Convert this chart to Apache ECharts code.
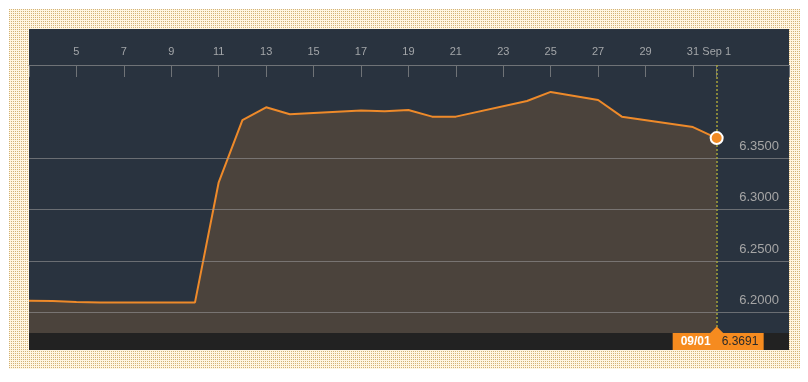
<!DOCTYPE html>
<html>
<head>
<meta charset="utf-8">
<script src="https://cdn.jsdelivr.net/npm/echarts@6/dist/echarts.min.js"></script>
<style>
  html, body { margin: 0; padding: 0; background: #ffffff; }
  #frame {
    position: absolute; left: 9px; top: 9px; width: 791px; height: 360px;
    background-color: #fff6e2;
    background-image: linear-gradient(90deg, transparent 1px, #fff6e2 1px), linear-gradient(#d2b277 1px, transparent 1px);
    background-size: 2px 2px;
  }
  #chart { position: absolute; left: 0; top: 0; width: 808px; height: 382px; }
</style>
</head>
<body>
<div id="frame"></div>
<div id="chart"></div>
<script>
// ---- data (USD/CNY, Aug–Sep 2015) ----
var dates = ['2015-08-03','2015-08-04','2015-08-05','2015-08-06','2015-08-07','2015-08-10',
  '2015-08-11','2015-08-12','2015-08-13','2015-08-14','2015-08-17','2015-08-18','2015-08-19',
  '2015-08-20','2015-08-21','2015-08-24','2015-08-25','2015-08-26','2015-08-27','2015-08-28',
  '2015-08-31','2015-09-01'];
var values = [6.2112, 6.2110, 6.2100, 6.2097, 6.2097, 6.2097,
  6.3262, 6.3866, 6.3990, 6.3922, 6.3958, 6.3951, 6.3964,
  6.3899, 6.3899, 6.4051, 6.4139, 6.4100, 6.4061, 6.3899,
  6.3798, 6.3691];
var xTickDates = ['2015-08-03','2015-08-05','2015-08-07','2015-08-09','2015-08-11','2015-08-13',
  '2015-08-15','2015-08-17','2015-08-19','2015-08-21','2015-08-23','2015-08-25','2015-08-27',
  '2015-08-29','2015-08-31','2015-09-01'];
var xLabelDates = ['2015-08-05','2015-08-07','2015-08-09','2015-08-11','2015-08-13',
  '2015-08-15','2015-08-17','2015-08-19','2015-08-21','2015-08-23','2015-08-25','2015-08-27',
  '2015-08-29','2015-08-31','2015-09-01'];
var yTicks = [6.20, 6.25, 6.30, 6.35];
var xMinDate = '2015-08-03';
var xMaxDate = '2015-09-04';
var yMin = 6.18, yMax = 6.44;
var lastLabelDate = '09/01';

function ts(d) { var p = d.split('-'); return Date.UTC(+p[0], +p[1] - 1, +p[2]); }
var seriesData = dates.map(function (d, i) { return [ts(d), values[i]]; });
var lastPoint = seriesData[seriesData.length - 1];
var monthNames = ['Jan','Feb','Mar','Apr','May','Jun','Jul','Aug','Sep','Oct','Nov','Dec'];
var xMaxTs = ts(xMaxDate) + 0.05 * 86400000;

var chart = echarts.init(document.getElementById('chart'), null, { renderer: 'canvas' });
var option = {
  backgroundColor: 'transparent',
  animation: false,
  textStyle: { fontFamily: 'Liberation Sans, Arial, sans-serif' },
  grid: { left: 29, right: 19, top: 65, bottom: 49, containLabel: false },
  xAxis: {
    type: 'value',
    position: 'top',
    min: ts(xMinDate),
    max: xMaxTs,
    axisLine: { show: true, lineStyle: { color: '#6f7377', width: 1 } },
    axisTick: { show: true, inside: true, length: 12, lineStyle: { color: '#6f7377' },
      customValues: xTickDates.map(ts).concat([xMaxTs]) },
    axisLabel: {
      customValues: xLabelDates.map(ts),
      margin: 8, color: '#a3a6a9', fontSize: 11,
      formatter: function (v) {
        var d = new Date(v);
        return d.getUTCDate() === 1 ? monthNames[d.getUTCMonth()] + ' ' + d.getUTCDate() : String(d.getUTCDate());
      }
    },
    splitLine: { show: false }
  },
  yAxis: {
    type: 'value',
    position: 'right',
    min: yMin, max: yMax,
    z: 3,
    axisLine: { show: false },
    axisTick: { show: false, customValues: yTicks },
    axisLabel: {
      customValues: yTicks,
      inside: true, margin: 10, color: '#a6a6a6', fontSize: 13,
      verticalAlign: 'bottom', padding: [0, 0, 5, 0],
      formatter: function (v) { return v.toFixed(4); }
    },
    splitLine: { show: true, lineStyle: { color: 'rgba(150,150,150,0.6)', width: 1 } }
  },
  series: [
    {
      type: 'line',
      data: seriesData,
      showSymbol: false,
      lineStyle: { color: '#ee8a2a', width: 2 },
      areaStyle: { color: '#4b433c', opacity: 1 },
      z: 2,
      markLine: {
        silent: true, symbol: 'none',
        label: { show: false },
        lineStyle: { color: '#a7a23a', type: [2, 2], width: 1.5 },
        data: [[{ coord: [lastPoint[0], yMax] }, { coord: [lastPoint[0], yMin] }]]
      }
    },
    {
      type: 'scatter',
      data: [lastPoint],
      symbol: 'circle',
      symbolSize: 12,
      itemStyle: { color: '#f08a24', borderColor: '#ffffff', borderWidth: 2, opacity: 1 },
      z: 5
    }
  ]
};
chart.setOption(option);

// decorations positioned from the library's own scales
var gridTopLeft = chart.convertToPixel({ gridIndex: 0 }, [ts(xMinDate), yMax]);
var gridBotRight = chart.convertToPixel({ gridIndex: 0 }, [xMaxTs, yMin]);
var px = chart.convertToPixel({ gridIndex: 0 }, [lastPoint[0], yMin]);
var left = gridTopLeft[0], right = gridBotRight[0], bottom = gridBotRight[1];
chart.setOption({
  graphic: [
    { type: 'rect', z: -10, silent: true,
      shape: { x: left, y: 29, width: right - left, height: bottom + 17 - 29 },
      style: { fill: '#29333f' } },
    { type: 'rect', z: 10, silent: true,
      shape: { x: left, y: bottom, width: right - left, height: 17 },
      style: { fill: '#222222' } },
    { type: 'rect', z: 11, silent: true,
      shape: { x: px[0] - 44, y: bottom, width: 91, height: 17 },
      style: { fill: '#f68b1f' } },
    { type: 'polygon', z: 11, silent: true,
      shape: { points: [[px[0] - 7, bottom + 0.5], [px[0], bottom - 6.5], [px[0] + 7, bottom + 0.5]] },
      style: { fill: '#f68b1f' } },
    { type: 'text', z: 12, silent: true, x: px[0] - 36, y: bottom + 9,
      style: { text: lastLabelDate, fill: '#ffffff', font: 'bold 12px Liberation Sans, Arial, sans-serif', verticalAlign: 'middle', align: 'left' } },
    { type: 'text', z: 12, silent: true, x: px[0] + 5, y: bottom + 9,
      style: { text: lastPoint[1].toFixed(4), fill: '#2a2a2a', font: '12px Liberation Sans, Arial, sans-serif', verticalAlign: 'middle', align: 'left' } }
  ]
});
</script>
</body>
</html>
